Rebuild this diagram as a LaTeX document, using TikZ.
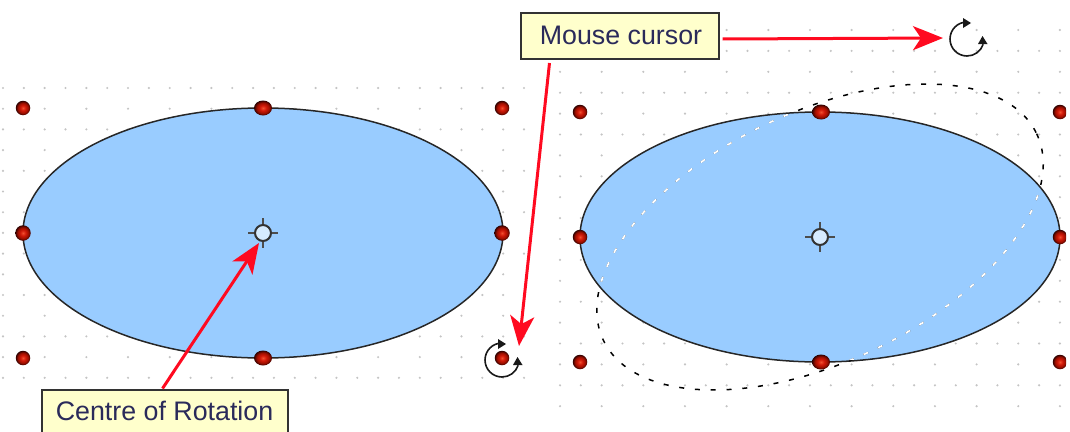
\documentclass[tikz,border=0pt]{standalone}
\usepackage{fontspec}
\setmainfont{Liberation Sans}
\usetikzlibrary{arrows.meta,shapes.geometric}
\definecolor{shapeblue}{HTML}{99CCFF}
\definecolor{griddot}{HTML}{C4C4C4}
\definecolor{notefill}{HTML}{FFFFCC}
\definecolor{noteedge}{HTML}{333333}
\definecolor{notetext}{HTML}{2A2A5A}
\definecolor{callout}{HTML}{FF0A20}
\definecolor{ballhi}{HTML}{F05030}
\definecolor{ballmid}{HTML}{D01808}
\definecolor{balllow}{HTML}{A01000}
\definecolor{balledge}{HTML}{500400}
\definecolor{ballrim}{HTML}{180000}
\pgfdeclareradialshading{handleball}{\pgfpointorigin}{
  color(0bp)=(ballhi);
  color(9bp)=(ballmid);
  color(17bp)=(balllow);
  color(23bp)=(balledge);
  color(27bp)=(ballrim);
  color(50bp)=(ballrim)}
\tikzset{
  blueshape/.style={fill=shapeblue,draw=black!85,line width=1.5pt},
  handle/.style={circle,draw=none,shading=handleball,minimum size=14.5pt,inner sep=0pt},
  widehandle/.style={ellipse,draw=none,shading=handleball,minimum width=18pt,minimum height=15pt,inner sep=0pt},
  rotoutline/.style={line width=1.5pt,dash pattern=on 5pt off 10.8pt},
  note/.style={rectangle,draw=noteedge,line width=2pt,fill=notefill,text=notetext,font=\fontsize{26.8}{30}\selectfont,inner sep=0pt,anchor=north west},
  calloutarrow/.style={draw=callout,line width=3pt,-{Stealth[length=30pt,width=24pt,inset=8pt]}},
  pivotmark/.style={draw=black!70,line width=1.8pt},
  rotcursor/.style={draw=black!90,line width=1.6pt},
  rothead/.style={fill=black!90}
}
\begin{document}
\begin{tikzpicture}[x=1pt,y=-1pt]
\useasboundingbox (0,0) rectangle (1070,431);
\clip (0,0) rectangle (1070,431);
% left dot grid
\foreach \j in {0,...,14}{
  \foreach \i in {0,...,25}{
    \pgfmathtruncatemacro{\show}{(mod(\j,2)==0 || mod(\i,2)==0) ? 1 : 0}
    \ifnum\show=1
      \fill[griddot] ({3+20.84*\i},{88+20.7*\j}) circle (1.2pt);
    \fi
  }
}
% right dot grid
\foreach \j in {0,...,18}{
  \foreach \i in {0,...,24}{
    \pgfmathtruncatemacro{\show}{((mod(\j,2)==1 || mod(\i,2)==0) && (\j>1 || \i>7)) ? 1 : 0}
    \ifnum\show=1
      \fill[griddot] ({560+20.83*\i},{30+20.9*\j}) circle (1.2pt);
    \fi
  }
}
% ellipses
\draw[blueshape] (263,233) ellipse [x radius=240,y radius=125];
\draw[blueshape] (820,237) ellipse [x radius=240,y radius=125];
% rotation preview
\draw[rotoutline,black,rotate around={25.5:(820,237)}] (820,237) ellipse [x radius=240,y radius=125];
\begin{scope}
  \clip (820,237) ellipse [x radius=239,y radius=124];
  \draw[rotoutline,white,line width=1.8pt,rotate around={25.5:(820,237)}] (820,237) ellipse [x radius=240,y radius=125];
\end{scope}
% pivots
\foreach \n/\c in {pa/{263,233},pb/{820,237}}{
  \node[circle,draw=black!80,line width=2pt,fill=white!60!shapeblue,minimum size=16pt,inner sep=0pt] (\n) at (\c) {};
  \draw[pivotmark] (\n.north) -- ++(0,-6);
  \draw[pivotmark] (\n.south) -- ++(0,6);
  \draw[pivotmark] (\n.west) -- ++(-6,0);
  \draw[pivotmark] (\n.east) -- ++(6,0);
}
% handles
\node[handle] (la) at (23,108) {};
\node[widehandle] (lb) at (263,108) {};
\node[handle] (lc) at (502,108) {};
\node[handle,minimum size=15.5pt] (ld) at (23,233) {};
\node[handle,minimum size=15.5pt] (le) at (502,233) {};
\node[handle] (lf) at (23,358) {};
\node[widehandle] (lg) at (263,358) {};
\node[handle] (lh) at (502,358) {};
\node[handle] (ra) at (580,112) {};
\node[widehandle] (rb) at (821,112) {};
\node[handle] (rd) at (580,237) {};
\node[handle] (rf) at (580,362) {};
\node[widehandle] (rg) at (821,362) {};
\begin{scope}
  \clip (1040,90) rectangle (1066,380);
  \node[handle] (rc) at (1060,112) {};
  \node[handle] (re) at (1060,237) {};
  \node[handle] (rh) at (1060,362) {};
\end{scope}
% rotation cursors
\coordinate (cura) at (967,39);
\coordinate (curb) at (502,360);
\foreach \n in {cura,curb}{
  \begin{scope}[shift={(\n)}]
    \draw[rotcursor] (-90:17) arc[start angle=-90,end angle=-342,radius=17];
    \fill[rothead] (4,-16) -- (-4,-21) -- (-4,-11) -- cycle;
    \fill[rothead] (15.5,-3) -- (11,5) -- (20.5,5) -- cycle;
  \end{scope}
}
% notes
\node[note,minimum width=198pt,minimum height=46pt] (mc) at (519.5,12) {\hspace*{3pt}\raisebox{2pt}{Mouse cursor}};
\node[note,minimum width=246pt,minimum height=60pt] (cr) at (40.5,388.5) {\raisebox{17pt}{Centre of Rotation}};
% callouts
\coordinate (tipa) at (943,38);
\coordinate (tipb) at (519,346);
\coordinate (tipc) at (259,243);
\draw[calloutarrow] ([xshift=3pt,yshift=-3pt]mc.east) -- (tipa);
\draw[calloutarrow] ([xshift=-70pt,yshift=-3pt]mc.south) -- (tipb);
\draw[calloutarrow] ([xshift=-2pt]cr.north) -- (tipc);
\end{tikzpicture}
\end{document}
